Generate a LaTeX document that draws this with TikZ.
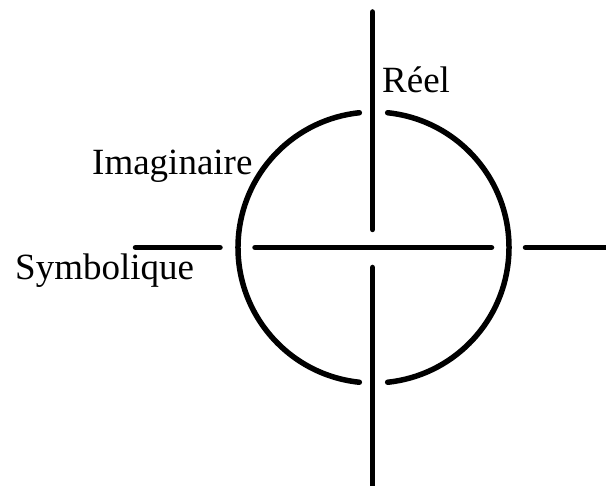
\documentclass[tikz,border=0pt]{standalone}
\usepackage{fontspec}
\setmainfont{Liberation Serif}
\begin{document}
\begin{tikzpicture}[x=1pt,y=-1pt,
  ln/.style={line width=5.5pt, line cap=round},
  lbl/.style={anchor=base west, inner sep=0pt, font=\fontsize{37}{40}\selectfont}]
\useasboundingbox (0,0) rectangle (606,486);
\coordinate (c) at (373.5,247.5);
% vertical axis
\coordinate (vt) at (372.5,12);
\coordinate (vm1) at (372.5,229.5);
\coordinate (vm2) at (372.5,267.5);
\coordinate (vb) at (372.5,490);
\draw[ln] (vt) -- (vm1);
\draw[ln] (vm2) -- (vb);
% horizontal axis
\coordinate (h1) at (135.5,247.5);
\coordinate (h2) at (220,247.5);
\coordinate (h3) at (255,247.5);
\coordinate (h4) at (491.5,247.5);
\coordinate (h5) at (525.5,247.5);
\coordinate (h6) at (610,247.5);
\draw[ln] (h1) -- (h2);
\draw[ln] (h3) -- (h4);
\draw[ln] (h5) -- (h6);
% circle in two arcs
\draw[ln] (c) ++(-84:135.5) arc[start angle=-84, end angle=84, radius=135.5];
\draw[ln] (c) ++(96:135.5) arc[start angle=96, end angle=264, radius=135.5];
% labels
\node[lbl] (reel) at (382,93) {Réel};
\node[lbl] (imag) at (92,175) {Imaginaire};
\node[lbl] (symb) at (15,280) {Symbolique};
\end{tikzpicture}
\end{document}
